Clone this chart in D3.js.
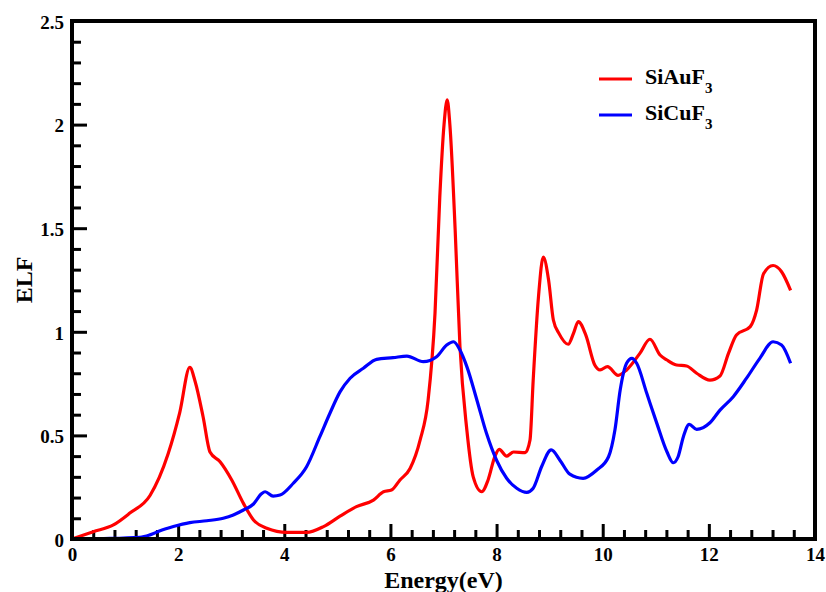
<!DOCTYPE html>
<html>
<head>
<meta charset="utf-8">
<script src="https://cdn.jsdelivr.net/npm/d3@7"></script>
<style>
  body { margin: 0; background: #fff; }
  text { font-family: "Liberation Serif", "Times New Roman", serif; font-weight: bold; }
</style>
</head>
<body>
<div id="vizcont"></div>
<script>
// SiAuF3 (red) ELF vs energy
var auX = [0, 0.4, 0.78, 1.09, 1.47, 1.81, 2.03, 2.22, 2.32, 2.47, 2.6, 2.79, 3.01, 3.23, 3.42, 3.67, 4.05, 4.42, 4.74,
           5.05, 5.36, 5.68, 5.87, 6.02, 6.18, 6.37, 6.56, 6.71, 6.84, 6.93, 7.01, 7.07, 7.12, 7.22, 7.31, 7.44, 7.56,
           7.72, 7.84, 7.97, 8.05, 8.19, 8.32, 8.54, 8.63, 8.69, 8.79, 8.88, 8.98, 9.07, 9.18, 9.35, 9.45, 9.54, 9.68,
           9.85, 9.95, 10.09, 10.29, 10.45, 10.7, 10.89, 11.08, 11.21, 11.39, 11.58, 11.77, 12.02, 12.21, 12.37, 12.52,
           12.78, 12.9, 13.03, 13.21, 13.37, 13.54];
var auY = [0, 0.035, 0.068, 0.125, 0.21, 0.41, 0.61, 0.828, 0.76, 0.59, 0.42, 0.373, 0.285, 0.172, 0.092, 0.052, 0.032, 0.032, 0.06,
           0.11, 0.156, 0.188, 0.228, 0.236, 0.285, 0.34, 0.478, 0.67, 1.09, 1.65, 2.0, 2.12, 2.0, 1.49, 0.93, 0.526, 0.30,
           0.228, 0.285, 0.40, 0.433, 0.40, 0.42, 0.417, 0.478, 0.767, 1.17, 1.36, 1.25, 1.057, 0.99, 0.94, 0.993, 1.049, 0.985,
           0.84, 0.816, 0.832, 0.79, 0.816, 0.896, 0.964, 0.888, 0.864, 0.84, 0.835, 0.80, 0.767, 0.787, 0.896, 0.985,
           1.025, 1.105, 1.28, 1.32, 1.29, 1.20];

// SiCuF3 (blue)
var cuX = [0, 0.6, 1.28, 1.47, 1.66, 1.91, 2.22, 2.54, 2.85, 3.04, 3.23, 3.42, 3.57, 3.64, 3.79, 3.92, 4.17, 4.42, 4.67, 4.86,
           5.05, 5.24, 5.49, 5.74, 6.05, 6.31, 6.62, 6.87, 7.06, 7.19, 7.31, 7.44, 7.63, 7.81, 8.0, 8.19, 8.38, 8.57, 8.69,
           8.85, 9.03, 9.2, 9.38, 9.63, 9.89, 10.11, 10.23, 10.33, 10.45, 10.55, 10.64, 10.83, 11.02, 11.21, 11.33, 11.42,
           11.52, 11.63, 11.77, 12.02, 12.21, 12.46, 12.71, 12.96, 13.21, 13.37, 13.54];
var cuY = [0, 0.002, 0.008, 0.02, 0.04, 0.06, 0.079, 0.088, 0.10, 0.116, 0.14, 0.169, 0.218, 0.228, 0.207, 0.212, 0.269, 0.349, 0.494, 0.607,
           0.71, 0.776, 0.824, 0.867, 0.875, 0.883, 0.856, 0.88, 0.936, 0.952, 0.912, 0.832, 0.67, 0.51, 0.38, 0.293, 0.245, 0.225, 0.245,
           0.35, 0.43, 0.378, 0.313, 0.293, 0.333, 0.397, 0.526, 0.72, 0.848, 0.872, 0.848, 0.703, 0.558, 0.421, 0.368, 0.397,
           0.494, 0.553, 0.529, 0.561, 0.622, 0.687, 0.776, 0.872, 0.952, 0.936, 0.848];

var xMajor = [0, 2, 4, 6, 8, 10, 12, 14];
var yMajor = [0, 0.5, 1, 1.5, 2, 2.5];
var yLabels = ["0", "0.5", "1", "1.5", "2", "2.5"];

var seriesNames = ["SiAuF", "SiCuF"];
var seriesColors = ["#ff0000", "#0000ff"];

var margin = {top: 21, right: 11, bottom: 53, left: 72};
var width = 826 - margin.left - margin.right;
var height = 592 - margin.top - margin.bottom;

var svg = d3.select("#vizcont")
    .append("svg")
    .attr("width", 826)
    .attr("height", 592);

var g = svg.append("g")
    .attr("transform", "translate(" + margin.left + "," + margin.top + ")");

var x = d3.scaleLinear().domain([0, 14]).range([0, width]);
var y = d3.scaleLinear().domain([0, 2.5]).range([height, 0]);

// minor ticks (inward)
var xMinor = d3.range(0, 14.001, 0.4).filter(function(v) { return Math.abs(v / 2 - Math.round(v / 2)) > 0.01; });
var yMinor = d3.range(0, 2.501, 0.1).filter(function(v) { return Math.abs(v / 0.5 - Math.round(v / 0.5)) > 0.01; });

g.append("g")
    .attr("transform", "translate(0," + height + ")")
    .call(d3.axisBottom(x).tickValues(xMinor).tickSize(-9).tickFormat(""))
    .call(function(s) { s.select(".domain").remove(); s.selectAll("line").attr("stroke-width", 3); });

g.append("g")
    .call(d3.axisLeft(y).tickValues(yMinor).tickSize(-9).tickFormat(""))
    .call(function(s) { s.select(".domain").remove(); s.selectAll("line").attr("stroke-width", 3); });

// major ticks
g.append("g")
    .attr("transform", "translate(0," + height + ")")
    .call(d3.axisBottom(x).tickValues(xMajor).tickSize(-15).tickPadding(9).tickFormat(d3.format("d")))
    .call(function(s) {
        s.select(".domain").remove();
        s.selectAll("line").attr("stroke-width", 3);
        s.selectAll("text").attr("font-size", 19).attr("fill", "#000");
    });

g.append("g")
    .call(d3.axisLeft(y).tickValues(yMajor).tickSize(-15).tickPadding(8)
        .tickFormat(function(d, i) { return yLabels[i]; }))
    .call(function(s) {
        s.select(".domain").remove();
        s.selectAll("line").attr("stroke-width", 3);
        s.selectAll("text").attr("font-size", 19).attr("fill", "#000").attr("dy", "0.38em");
    });

// curves
var line = d3.line()
    .x(function(d) { return x(d[0]); })
    .y(function(d) { return y(d[1]); })
    .curve(d3.curveMonotoneX);

var series = [d3.zip(auX, auY), d3.zip(cuX, cuY)];

g.selectAll("path.curve")
    .data(series)
    .enter()
    .append("path")
    .attr("class", "curve")
    .attr("d", line)
    .attr("fill", "none")
    .attr("stroke", function(d, i) { return seriesColors[i]; })
    .attr("stroke-width", 3.2)
    .attr("stroke-linejoin", "round");

// frame
g.append("rect")
    .attr("width", width)
    .attr("height", height)
    .attr("fill", "none")
    .attr("stroke", "#000")
    .attr("stroke-width", 4);

// axis titles
svg.append("text")
    .attr("x", margin.left + width / 2)
    .attr("y", 588)
    .attr("text-anchor", "middle")
    .attr("font-size", 24)
    .text("Energy(eV)");

svg.append("text")
    .attr("transform", "translate(32,280) rotate(-90)")
    .attr("text-anchor", "middle")
    .attr("font-size", 24)
    .text("ELF");

// legend
var legend = svg.append("g")
    .selectAll("g")
    .data(seriesNames)
    .enter()
    .append("g")
    .attr("transform", function(d, i) { return "translate(599," + (79 + i * 36) + ")"; });

legend.append("line")
    .attr("x1", 0)
    .attr("x2", 33)
    .attr("stroke", function(d, i) { return seriesColors[i]; })
    .attr("stroke-width", 3);

var lt = legend.append("text")
    .attr("x", 46)
    .attr("y", 5)
    .attr("font-size", 22);
lt.append("tspan").text(function(d) { return d; });
lt.append("tspan").attr("dy", 9).attr("font-size", 15).text("3");
</script>
</body>
</html>
